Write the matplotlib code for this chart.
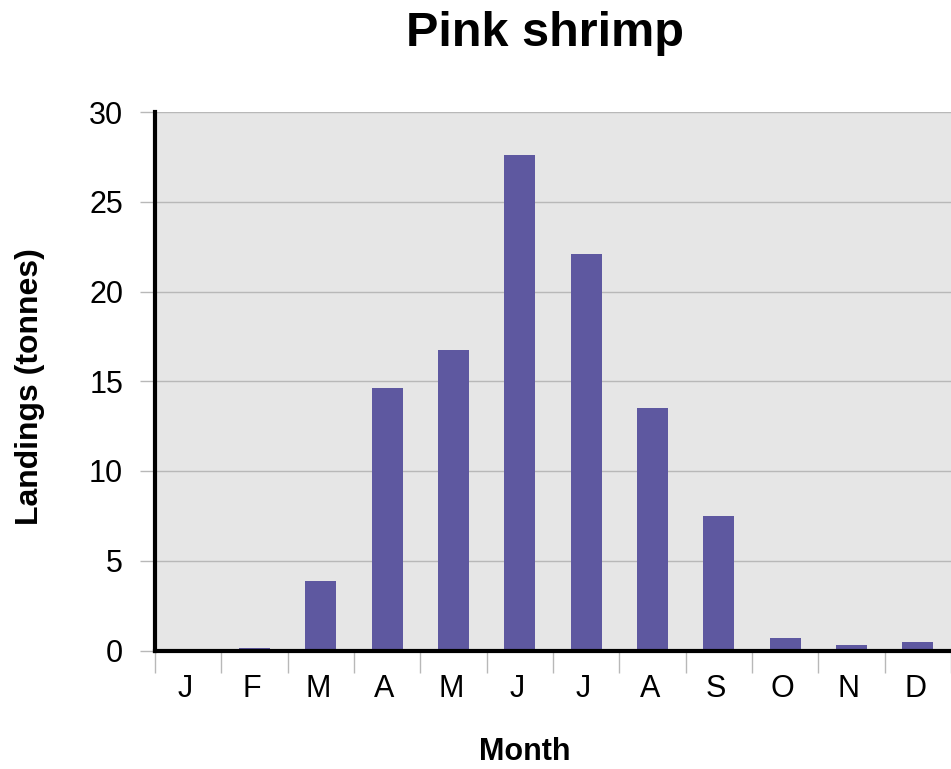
import matplotlib.pyplot as plt
import numpy as np

months = ['J', 'F', 'M', 'A', 'M', 'J', 'J', 'A', 'S', 'O', 'N', 'D']
landings = [0.0, 0.15, 3.85, 14.6, 16.75, 27.6, 22.1, 13.5, 7.5, 0.72, 0.33, 0.5]

plt.rcParams['font.family'] = ['Liberation Sans', 'DejaVu Sans']

fig = plt.figure(figsize=(9.51, 7.69), dpi=100)
ax = fig.add_axes([155 / 951, 1 - 650.5 / 769, 1 - 155 / 951, (650.5 - 112) / 769])

x = np.arange(len(months))
ax.set_facecolor('#e6e6e6')
ax.bar(x, landings, width=0.47, color='#5e58a0', zorder=3)

ax.set_xlim(-0.5, 11.33)
ax.set_ylim(0, 30)
ax.set_yticks(np.arange(0, 31, 5))
ax.yaxis.grid(True, color='#b8b8b8', linewidth=1, zorder=0)
ax.tick_params(axis='y', labelsize=22, length=11, color='#b8b8b8', width=1, pad=12)

ax.set_xticks(x - 0.04)
ax.set_xticklabels(months)
ax.set_xticks(np.arange(-0.5, 12, 1), minor=True)
ax.tick_params(axis='x', which='major', length=0, labelsize=22, pad=17)
ax.tick_params(axis='x', which='minor', length=16, color='#b8b8b8', width=1)

for side in ['top', 'right']:
    ax.spines[side].set_visible(False)
ax.spines['left'].set_linewidth(3)
ax.spines['bottom'].set_linewidth(3)
ax.spines['left'].set_zorder(4)
ax.spines['bottom'].set_zorder(4)

fig.text(545 / 951, 1 - 33 / 769, 'Pink shrimp', ha='center', va='center',
         fontsize=35, fontweight='bold')
fig.text(30 / 951, 1 - 387 / 769, 'Landings (tonnes)', ha='center', va='center',
         rotation=90, fontsize=23, fontweight='bold')
fig.text(525 / 951, 1 - 752 / 769, 'Month', ha='center', va='center',
         fontsize=22, fontweight='bold')

plt.savefig('out.png', dpi=100)
